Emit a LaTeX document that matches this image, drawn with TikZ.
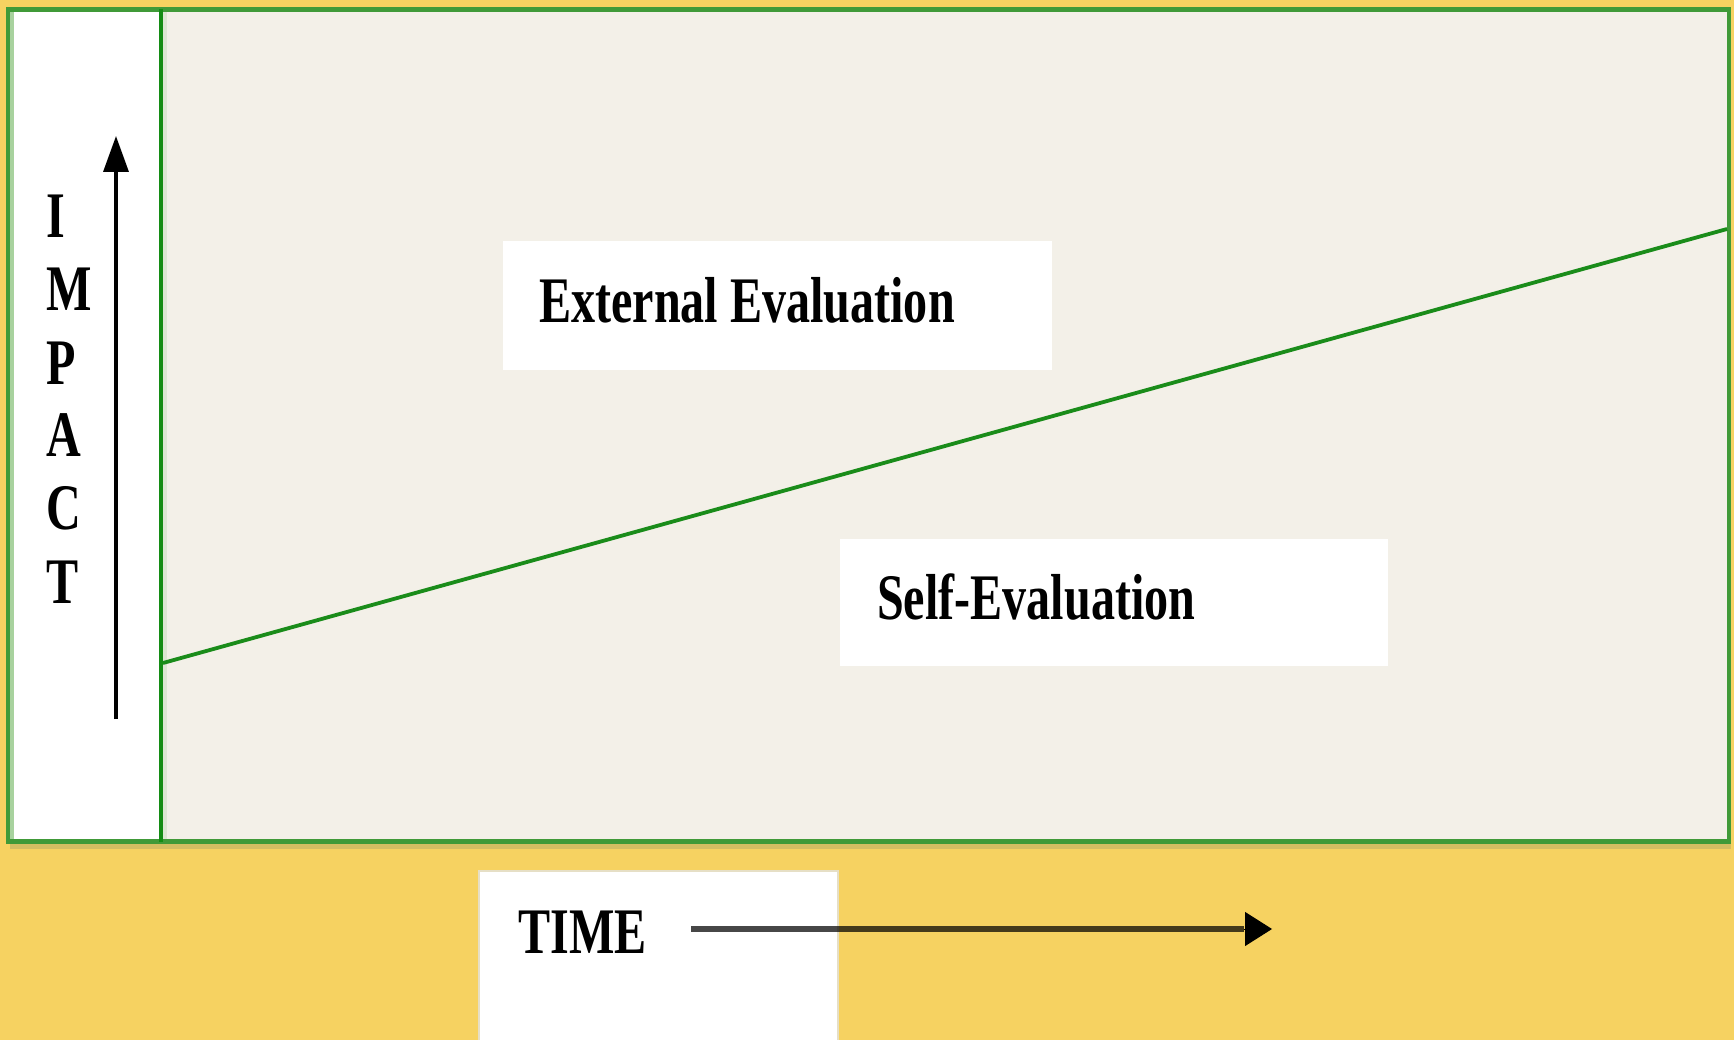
\documentclass[tikz,border=0pt]{standalone}
\usepackage{fontspec}
\newfontfamily\lblfont[FakeStretch=0.74]{Liberation Serif}
\usetikzlibrary{arrows.meta}

\definecolor{bgyellow}{HTML}{F6D261}
\definecolor{plotbg}{HTML}{F3F0E8}
\definecolor{framegreen}{HTML}{409A38}
\definecolor{dividergreen}{HTML}{148C14}
\definecolor{linegreen}{HTML}{1A8C1A}
\definecolor{innerlight}{HTML}{A8D29E}
\definecolor{dividerlight}{HTML}{DCE6D2}
\definecolor{shadowband}{HTML}{D4BE62}
\definecolor{boxedge}{HTML}{E6DFC6}

\begin{document}
\begin{tikzpicture}[x=1pt,y=-1pt,
  lbl/.style={inner sep=0pt, anchor=base west,
    font=\lblfont\bfseries\fontsize{65}{70}\selectfont},
  panel/.style={fill=white, draw=none, inner sep=0pt, anchor=north west},
  axisarrow/.style={line width=3.5, -{Triangle[length=36,width=25]}},
]
\useasboundingbox (0,0) rectangle (1734,1040);
\fill[bgyellow] (0,0) rectangle (1734,1040);

% chart area: white axis column and beige plot field
\fill[white] (10,11) rectangle (161,840);
\fill[plotbg] (161,11) rectangle (1727,840);
\fill[innerlight] (10,11) rectangle (14,840);
\fill[dividerlight] (163,11) rectangle (167,840);
\fill[shadowband] (10,844) rectangle (1731,849);

% frame and column divider
\draw[framegreen, line width=4.5] (8,9.5) rectangle (1729,841.5);
\coordinate (divTop) at (161,9.5);
\coordinate (divBot) at (161,841.5);
\draw[dividergreen, line width=4] (divTop) -- (divBot);

% boundary line between the two regions
\coordinate (lineL) at (163,663);
\coordinate (lineR) at (1727,229);
\draw[linegreen, line width=3.8] (lineL) -- (lineR);

% region labels
\node[panel, minimum width=549, minimum height=129] (extBox) at (503,241) {};
\node[lbl] (extText) at (539,323) {External Evaluation};
\node[panel, minimum width=548, minimum height=127] (selfBox) at (840,539) {};
\node[lbl] (selfText) at (877,619) {Self-Evaluation};

% vertical axis
\coordinate (impTail) at (116,719);
\coordinate (impTip) at (116,136);
\draw[axisarrow] (impTail) -- (impTip);
\node[lbl] (impI) at (46,238) {I};
\node[lbl] (impM) at (46,311) {M};
\node[lbl] (impP) at (46,384) {P};
\node[lbl] (impA) at (46,456) {A};
\node[lbl] (impC) at (46,529) {C};
\node[lbl] (impT) at (46,603) {T};

% horizontal axis
\draw[boxedge, fill=white, line width=2] (479,1042) |- (838,871) -- (838,1042);
\node[panel, minimum width=357, minimum height=170] (timeBox) at (480,872) {};
\node[lbl] (timeText) at (518,953) {TIME};
\coordinate (timeTail) at (691,929);
\coordinate (timeBase) at (1244,929);
\coordinate (timeTip) at (1272,929);
\draw[black, draw opacity=0.72, line width=6] (timeTail) -- (timeBase);
\draw[line width=1, -{Triangle[length=27,width=34]}] (timeBase) -- (timeTip);
\end{tikzpicture}
\end{document}
